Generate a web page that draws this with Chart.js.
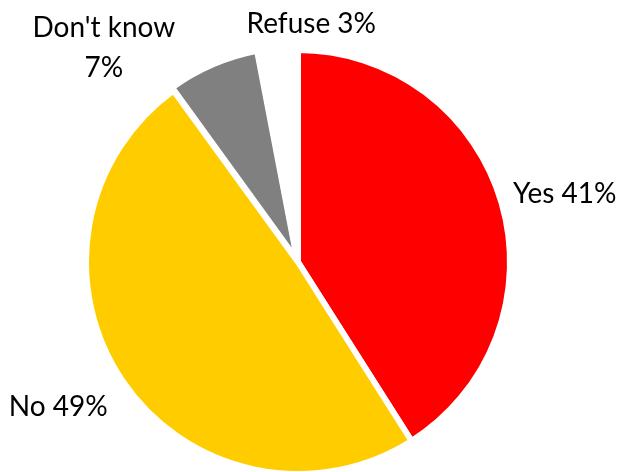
<!DOCTYPE html>
<html>
<head>
<meta charset="utf-8">
<script src="https://cdn.jsdelivr.net/npm/chart.js@4.4.1/dist/chart.umd.min.js"></script>
<style>
  html, body { margin: 0; padding: 0; background: #ffffff; }
  #wrap { width: 621px; height: 472px; position: relative; }
</style>
</head>
<body>
<div id="wrap"><canvas id="c" width="621" height="472"></canvas></div>
<script>
// ---- data ----
const categories = ["Yes", "No", "Don't know", "Refuse"];
const values = [41, 49, 7, 3];
const labelLines = [["Yes 41%"], ["No 49%"], ["Don't know", "7%"], ["Refuse 3%"]];
const colors = ["#FF0000", "#FFCC00", "#808080", "#FFFFFF"];
const sliceOffsets = [0, 0, 8, 0];

// ---- label placement (gap beyond the rim, alignment, nudge) ----
const labelGap = [12, 18, 30, 29];
const labelAlign = ["left", "right", "center", "center"];
const labelNudge = [[0, 3.5], [0, 25], [-98, -3], [36, 11]];
const labelLineHeight = 40;
const labelFont = "28px Lato";

const sliceLabels = {
  id: "sliceLabels",
  afterDatasetsDraw(chart) {
    const ctx = chart.ctx;
    const meta = chart.getDatasetMeta(0);
    ctx.save();
    ctx.font = labelFont;
    ctx.fillStyle = "#000000";
    ctx.textBaseline = "alphabetic";
    meta.data.forEach((arc, i) => {
      const p = arc.getProps(["x", "y", "startAngle", "endAngle", "outerRadius"], true);
      const mid = (p.startAngle + p.endAngle) / 2;
      const r = p.outerRadius + labelGap[i];
      const ax = p.x + Math.cos(mid) * r + labelNudge[i][0];
      const ay = p.y + Math.sin(mid) * r + labelNudge[i][1];
      ctx.textAlign = labelAlign[i];
      labelLines[i].forEach((t, k) => ctx.fillText(t, ax, ay + k * labelLineHeight));
    });
    ctx.restore();
  }
};

new Chart(document.getElementById("c"), {
  type: "pie",
  data: {
    labels: categories,
    datasets: [{
      data: values,
      backgroundColor: colors,
      borderColor: "#FFFFFF",
      borderWidth: 6,
      offset: sliceOffsets,
      hoverOffset: 0,
      hoverBorderWidth: 6
    }]
  },
  options: {
    responsive: false,
    animation: false,
    radius: 212,
    layout: { padding: { left: 0, right: 25, top: 52, bottom: 0 } },
    plugins: {
      legend: { display: false },
      tooltip: { enabled: false },
      title: { display: false }
    },
    events: []
  },
  plugins: [sliceLabels]
});
</script>
</body>
</html>
